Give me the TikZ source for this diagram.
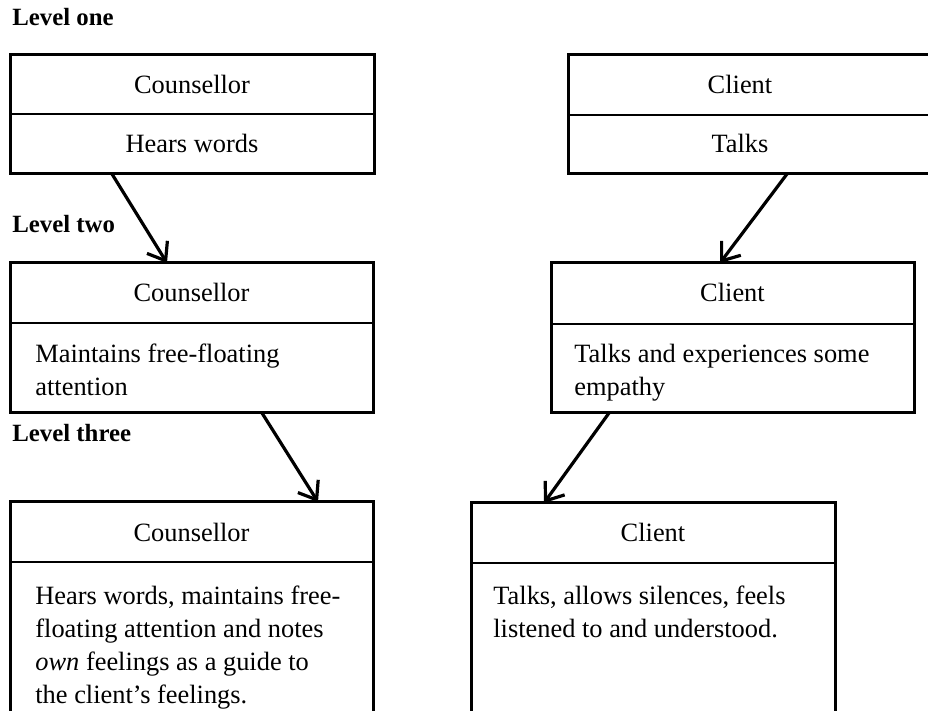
\documentclass[tikz,border=0pt]{standalone}
\usepackage{fontspec}
\setmainfont{Liberation Serif}
\usetikzlibrary{arrows.meta,calc}
\newcommand\bodyfont{\fontsize{13.2pt}{16.5pt}\selectfont}
\newcommand\levelfont{\fontsize{12.4pt}{14pt}\selectfont\bfseries}
\begin{document}
\begin{tikzpicture}[x=0.5pt,y=-0.5pt,
  box/.style={draw,line width=1.5pt,rectangle,inner sep=0pt,outer sep=0pt,anchor=north west},
  rule/.style={line width=0.9pt},
  link/.style={line width=1.6pt,-{Straight Barb[length=8pt,width=12pt]}},
  head/.style={anchor=base,inner sep=0pt,font=\bodyfont},
  body/.style={anchor=base west,inner sep=0pt,font=\bodyfont},
  level/.style={anchor=base west,inner sep=0pt,font=\levelfont}]
\useasboundingbox (0,0) rectangle (928,711);
\clip (0,0) rectangle (928,711);

% level labels
\node[level] (l1) at (12,26) {Level one};
\node[level] (l2) at (12,233) {Level two};
\node[level] (l3) at (12,442) {Level three};

% level one
\node[box,minimum width=182pt,minimum height=59.5pt] (c1) at (10,55) {};
\draw[rule] ($(c1.north west)+(0,59)$) -- ($(c1.north east)+(0,59)$);
\node[head] (c1h) at ($(c1.north)+(0,39)$) {Counsellor};
\node[head] (c1b) at ($(c1.north)+(0,98)$) {Hears words};

\node[box,minimum width=188.5pt,minimum height=59.5pt] (k1) at (568,55) {};
\draw[rule] ($(k1.north west)+(0,60)$) -- ($(k1.north east)+(0,60)$);
\node[head] (k1h) at (740,94) {Client};
\node[head] (k1b) at (740,153) {Talks};

% level two
\node[box,minimum width=181.5pt,minimum height=75pt] (c2) at (10,263) {};
\draw[rule] ($(c2.north west)+(0,60)$) -- ($(c2.north east)+(0,60)$);
\node[head] (c2h) at ($(c2.north)+(0,39)$) {Counsellor};
\node[body] (c2b) at (35,363) {\begin{tabular}[t]{@{}l@{}}Maintains free-floating\\attention\end{tabular}};

\node[box,minimum width=181.5pt,minimum height=75pt] (k2) at (551,263) {};
\draw[rule] ($(k2.north west)+(0,61)$) -- ($(k2.north east)+(0,61)$);
\node[head] (k2h) at ($(k2.north)+(0,39)$) {Client};
\node[body] (k2b) at (574,363) {\begin{tabular}[t]{@{}l@{}}Talks and experiences some\\empathy\end{tabular}};

% level three
\node[box,minimum width=181.5pt,minimum height=120pt] (c3) at (10,502) {};
\draw[rule] ($(c3.north west)+(0,60)$) -- ($(c3.north east)+(0,60)$);
\node[head] (c3h) at ($(c3.north)+(0,40)$) {Counsellor};
\node[body] (c3b) at (35,605) {\begin{tabular}[t]{@{}l@{}}Hears words, maintains free-\\floating attention and notes\\\textit{own} feelings as a guide to\\the client’s feelings.\end{tabular}};

\node[box,minimum width=182pt,minimum height=120pt] (k3) at (471,503) {};
\draw[rule] ($(k3.north west)+(0,60)$) -- ($(k3.north east)+(0,60)$);
\node[head] (k3h) at ($(k3.north)+(0,39)$) {Client};
\node[body] (k3b) at (493,605) {\begin{tabular}[t]{@{}l@{}}Talks, allows silences, feels\\listened to and understood.\end{tabular}};

% connectors
\draw[link] ($(c1.south west)+(102,0)$) -- ($(c2.north west)+(157,0)$);
\draw[link] ($(k1.south west)+(219,0)$) -- ($(k2.north west)+(169,0)$);
\draw[link] ($(c2.south west)+(252,0)$) -- ($(c3.north west)+(308,0)$);
\draw[link] ($(k2.south west)+(58,0)$) -- ($(k3.north west)+(73,0)$);
\end{tikzpicture}
\end{document}
